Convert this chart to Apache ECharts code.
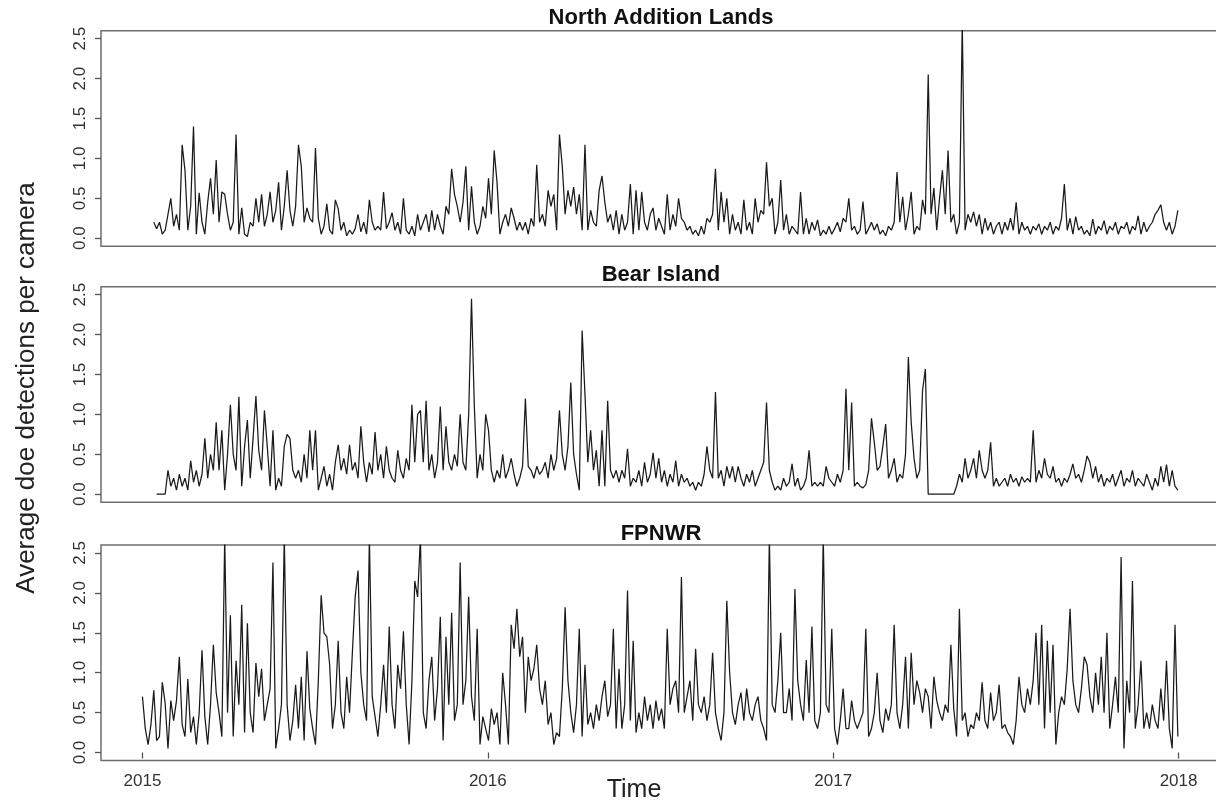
<!DOCTYPE html>
<html lang="en">
<head>
  <meta charset="UTF-8">
  <title>Average doe detections per camera</title>
  <style>
    html, body { margin: 0; padding: 0; overflow: hidden; background: #fff; }
  </style>
</head>
<body>
  <div class="wrapper" style="width:1222px;height:805px;"></div>

  <script src="https://cdn.jsdelivr.net/npm/echarts@6/dist/echarts.min.js"></script>
  <script>
    // one value every 3 days starting 2015-01-01
    const START_YEAR = 2015
    const STEP_DAYS = 3
    const yearTicks = [2015, 2016, 2017, 2018]
    const valueTicks = [0, 0.5, 1, 1.5, 2, 2.5]
    const panelNames = ['North Addition Lands', 'Bear Island', 'FPNWR']

    const northAddition = [
      null,null,null,null,0.2,0.12,0.2,0.05,0.1,0.3,
      0.5,0.15,0.3,0.1,1.17,0.85,0.1,0.4,1.4,0.05,
      0.57,0.2,0.05,0.45,0.75,0.3,0.98,0.2,0.58,0.55,
      0.3,0.1,0.2,1.3,0.05,0.38,0.05,0.02,0.2,0.15,
      0.5,0.2,0.55,0.15,0.3,0.58,0.2,0.35,0.7,0.1,
      0.4,0.85,0.35,0.15,0.4,1.17,0.9,0.2,0.38,0.25,
      0.2,1.13,0.25,0.05,0.15,0.43,0.1,0.05,0.48,0.37,
      0.1,0.2,0.03,0.1,0.05,0.12,0.3,0.08,0.2,0.05,
      0.48,0.2,0.1,0.15,0.1,0.58,0.12,0.2,0.32,0.1,
      0.2,0.05,0.5,0.1,0.05,0.15,0.03,0.3,0.1,0.2,
      0.3,0.08,0.35,0.1,0.3,0.15,0.05,0.4,0.3,0.87,
      0.55,0.4,0.2,0.45,0.9,0.1,0.65,0.2,0.05,0.15,
      0.4,0.25,0.75,0.3,1.1,0.7,0.05,0.2,0.3,0.15,
      0.38,0.25,0.1,0.2,0.1,0.2,0.05,0.25,0.15,0.92,
      0.2,0.3,0.15,0.6,0.4,0.55,0.1,1.3,0.9,0.3,
      0.6,0.4,0.64,0.3,0.55,0.1,1.17,0.1,0.35,0.2,
      0.15,0.6,0.78,0.45,0.2,0.3,0.1,0.35,0.05,0.3,
      0.1,0.2,0.68,0.05,0.6,0.1,0.58,0.2,0.1,0.3,
      0.38,0.1,0.25,0.15,0.05,0.55,0.1,0.3,0.15,0.5,
      0.25,0.2,0.1,0.15,0.05,0.1,0.03,0.15,0.05,0.25,
      0.2,0.3,0.87,0.1,0.58,0.2,0.5,0.05,0.3,0.1,
      0.2,0.05,0.48,0.1,0.2,0.05,0.5,0.2,0.35,0.3,
      0.95,0.4,0.5,0.05,0.2,0.73,0.1,0.3,0.05,0.15,
      0.1,0.05,0.58,0.05,0.25,0.05,0.2,0.1,0.23,0.03,
      0.1,0.05,0.15,0.05,0.12,0.2,0.08,0.25,0.2,0.5,
      0.1,0.15,0.05,0.1,0.46,0.05,0.12,0.2,0.1,0.18,
      0.05,0.1,0.03,0.15,0.1,0.2,0.83,0.2,0.52,0.1,
      0.3,0.58,0.05,0.15,0.1,0.48,0.3,2.05,0.3,0.63,
      0.1,0.5,0.85,0.3,1.1,0.2,0.3,0.05,0.2,2.7,
      0.1,0.3,0.2,0.33,0.15,0.3,0.05,0.25,0.1,0.2,
      0.05,0.15,0.2,0.05,0.2,0.1,0.25,0.1,0.45,0.05,
      0.2,0.1,0.15,0.05,0.15,0.1,0.18,0.05,0.15,0.1,
      0.2,0.05,0.15,0.1,0.25,0.68,0.1,0.25,0.05,0.27,
      0.1,0.15,0.05,0.1,0.03,0.24,0.05,0.15,0.1,0.22,
      0.05,0.15,0.1,0.2,0.05,0.15,0.12,0.2,0.05,0.15,
      0.1,0.28,0.05,0.2,0.08,0.15,0.2,0.3,0.35,0.42,
      0.2,0.1,0.2,0.05,0.15,0.35
    ]

    const bearIsland = [
      null,null,null,null,null,0,0,0,0,0.3,
      0.1,0.2,0.05,0.25,0.1,0.2,0.05,0.42,0.15,0.3,
      0.1,0.25,0.7,0.2,0.5,0.3,0.9,0.3,0.8,0.05,
      0.5,1.12,0.5,0.3,1.22,0.1,0.6,0.93,0.2,0.7,
      1.23,0.55,0.3,1.05,0.6,0.1,0.8,0.05,0.2,0.1,
      0.6,0.75,0.7,0.3,0.2,0.3,0.15,0.5,0.2,0.8,
      0.3,0.8,0.05,0.2,0.35,0.1,0.25,0.05,0.4,0.62,
      0.3,0.45,0.25,0.62,0.3,0.4,0.2,0.85,0.4,0.15,
      0.4,0.25,0.78,0.3,0.5,0.2,0.6,0.3,0.2,0.15,
      0.55,0.3,0.2,0.45,0.3,1.12,0.4,1.0,1.05,0.4,
      1.17,0.3,0.5,0.2,0.4,1.1,0.3,0.85,0.4,0.3,
      0.5,0.35,1.0,0.4,0.3,1.0,2.45,1.1,0.2,0.5,
      0.3,1.0,0.8,0.3,0.15,0.3,0.2,0.5,0.2,0.3,
      0.45,0.25,0.1,0.2,0.35,1.2,0.35,0.3,0.2,0.35,
      0.25,0.3,0.4,0.2,0.5,0.3,0.45,1.05,0.5,0.3,
      0.6,1.4,0.5,0.25,0.05,2.05,1.25,0.4,0.8,0.3,
      0.55,0.1,0.8,0.1,1.17,0.3,0.2,0.3,0.15,0.3,
      0.2,0.57,0.1,0.2,0.15,0.3,0.1,0.4,0.15,0.25,
      0.52,0.2,0.45,0.15,0.3,0.1,0.25,0.15,0.42,0.1,
      0.25,0.15,0.2,0.1,0.15,0.05,0.15,0.1,0.25,0.6,
      0.3,0.2,1.28,0.2,0.3,0.1,0.35,0.2,0.35,0.15,
      0.35,0.2,0.1,0.25,0.15,0.3,0.1,0.2,0.3,0.4,
      1.15,0.3,0.15,0.05,0.1,0.05,0.2,0.1,0.15,0.38,
      0.1,0.2,0.05,0.1,0.2,0.55,0.1,0.15,0.1,0.15,
      0.1,0.35,0.2,0.15,0.1,0.25,0.15,0.3,1.32,0.3,
      1.15,0.1,0.15,0.1,0.08,0.12,0.3,0.95,0.65,0.3,
      0.35,0.6,0.88,0.2,0.3,0.45,0.15,0.25,0.2,0.5,
      1.72,0.9,0.45,0.2,0.3,1.3,1.57,0,0,0,
      0,0,0,0,0,0,0,0.1,0.25,0.15,
      0.45,0.2,0.3,0.45,0.2,0.55,0.3,0.2,0.3,0.65,
      0.1,0.2,0.1,0.15,0.2,0.1,0.25,0.15,0.2,0.1,
      0.22,0.15,0.2,0.15,0.8,0.15,0.3,0.2,0.45,0.25,
      0.2,0.35,0.15,0.2,0.1,0.2,0.15,0.25,0.38,0.2,
      0.25,0.15,0.3,0.48,0.4,0.2,0.35,0.15,0.25,0.1,
      0.2,0.15,0.25,0.1,0.2,0.3,0.1,0.2,0.15,0.3,
      0.1,0.2,0.15,0.1,0.25,0.15,0.05,0.2,0.1,0.35,
      0.15,0.37,0.1,0.3,0.1,0.05
    ]

    const fpnwr = [
      0.7,0.3,0.1,0.35,0.78,0.15,0.2,0.88,0.62,0.05,
      0.65,0.4,0.65,1.2,0.35,0.2,0.92,0.25,0.45,0.1,
      0.5,1.28,0.45,0.1,0.6,1.35,0.75,0.5,0.2,2.7,
      0.5,1.72,0.2,1.15,0.6,1.85,0.25,1.62,0.5,0.25,
      1.12,0.7,1.05,0.4,0.6,0.8,2.38,0.05,0.3,0.6,
      2.7,0.6,0.15,0.4,0.85,0.3,0.95,0.15,1.27,0.55,
      0.3,0.1,0.9,1.97,1.5,1.45,1.1,0.3,0.6,1.4,
      0.5,0.3,0.95,0.5,1.25,1.95,2.28,1.0,0.6,0.4,
      2.7,0.7,0.45,0.2,0.6,1.1,0.5,1.58,0.6,0.3,
      1.1,0.8,1.52,0.6,0.1,0.9,2.15,1.95,2.7,0.5,
      0.3,0.9,1.2,0.4,0.8,1.7,0.15,1.45,0.6,1.75,
      0.4,0.6,2.38,0.6,0.9,1.95,0.7,0.4,1.55,0.1,
      0.45,0.3,0.15,0.55,0.35,0.5,0.1,1.0,0.6,0.1,
      1.6,1.3,1.8,1.2,1.45,0.5,1.2,0.9,1.05,1.35,
      0.8,0.6,0.9,0.35,0.5,0.1,0.25,0.2,0.8,1.82,
      0.9,0.5,0.25,0.6,1.55,0.2,1.1,0.35,0.5,0.3,
      0.6,0.4,0.7,0.9,0.45,0.6,1.55,0.3,1.05,0.3,
      0.6,2.03,0.4,1.4,0.25,0.5,0.3,0.7,0.4,0.6,
      0.3,0.65,0.4,0.55,0.3,1.55,0.6,0.8,0.9,0.5,
      2.2,0.5,0.7,0.9,0.4,1.3,0.6,0.5,0.7,0.4,
      0.6,1.25,0.5,0.3,0.15,0.5,1.9,1.0,0.5,0.35,
      0.6,0.75,0.4,0.8,0.5,0.4,0.6,0.7,0.4,0.3,
      0.15,2.7,0.6,0.5,0.9,1.5,0.5,0.5,0.8,0.4,
      2.05,0.9,0.6,0.4,1.16,0.5,1.58,0.4,0.3,0.5,
      2.7,0.6,0.5,1.55,0.3,0.1,0.4,0.8,0.3,0.3,
      0.65,0.4,0.3,0.4,0.5,1.55,0.2,0.3,0.5,1.0,
      0.4,0.25,0.55,0.4,0.6,1.6,0.5,0.3,0.6,1.2,
      0.3,1.25,0.6,0.9,0.75,0.5,0.8,0.7,0.3,0.95,
      0.65,0.5,0.4,0.6,0.5,1.35,0.55,0.2,1.8,0.4,
      0.5,0.2,0.35,0.3,0.5,0.4,0.88,0.4,0.3,0.75,
      0.4,0.5,0.85,0.3,0.35,0.25,0.2,0.1,0.4,0.95,
      0.6,0.5,0.8,0.6,0.9,1.5,0.6,1.6,0.3,1.4,
      0.5,1.35,0.1,0.5,0.7,0.6,1.05,1.8,0.9,0.6,
      0.5,0.8,1.2,1.1,0.7,0.5,1.0,0.6,1.2,0.5,
      1.5,0.3,0.6,0.95,0.5,2.45,0.05,0.9,0.5,2.15,
      0.3,0.6,1.15,0.3,0.5,0.3,0.6,0.4,0.3,0.8,
      0.4,1.15,0.3,0.05,1.6,0.2
    ]

    const panels = [northAddition, bearIsland, fpnwr]
    const gridTops = [30.7, 286.7, 545]
    const FONT = '"Liberation Sans", Arial, Helvetica, sans-serif'

    // day index -> decimal year
    const toPairs = arr => arr.map((v, i) => [START_YEAR + (i * STEP_DAYS) / 365.25, v])

    const chart = echarts.init(document.querySelector('.wrapper'))

    const option = {
      animation: false,
      backgroundColor: '#fff',
      textStyle: { fontFamily: FONT },
      grid: gridTops.map(t => ({
        left: 101, top: t, width: 1119, height: 215.5,
        show: true, borderColor: '#6e6e6e', borderWidth: 1.5
      })),
      xAxis: panels.map((_, i) => ({
        type: 'value',
        gridIndex: i,
        min: 2014.88,
        max: 2018.12,
        axisLine: { show: false },
        splitLine: { show: false },
        axisTick: {
          show: i === 2, customValues: yearTicks, length: 6,
          lineStyle: { color: '#555', width: 1.3 }
        },
        axisLabel: {
          show: i === 2, customValues: yearTicks, fontSize: 17, color: '#333',
          margin: 12, formatter: v => String(v)
        }
      })),
      yAxis: panels.map((_, i) => ({
        type: 'value',
        gridIndex: i,
        min: -0.1,
        max: 2.6,
        axisLine: { show: false },
        splitLine: { show: false },
        axisTick: {
          show: true, customValues: valueTicks, length: 6,
          lineStyle: { color: '#555', width: 1.3 }
        },
        axisLabel: {
          customValues: valueTicks, rotate: 90, fontSize: 17, color: '#333',
          margin: 12, formatter: v => v.toFixed(1)
        }
      })),
      series: panels.map((arr, i) => ({
        type: 'line',
        name: panelNames[i],
        xAxisIndex: i,
        yAxisIndex: i,
        data: toPairs(arr),
        showSymbol: false,
        connectNulls: false,
        lineStyle: { color: '#1a1a1a', width: 1.25 }
      })),
      graphic: [
        ...panelNames.map((name, i) => ({
          type: 'text',
          x: 661,
          y: [17.5, 274.5, 534][i],
          style: {
            text: name, font: 'bold 22px ' + FONT, fill: '#111',
            textAlign: 'center', textVerticalAlign: 'middle',
            align: 'center', verticalAlign: 'middle'
          }
        })),
        {
          type: 'text', x: 634, y: 790,
          style: {
            text: 'Time', font: '25px ' + FONT, fill: '#222',
            textAlign: 'center', textVerticalAlign: 'middle',
            align: 'center', verticalAlign: 'middle'
          }
        },
        {
          type: 'text', x: 27, y: 388, rotation: Math.PI / 2,
          style: {
            text: 'Average doe detections per camera', font: '26px ' + FONT, fill: '#222',
            textAlign: 'center', textVerticalAlign: 'middle',
            align: 'center', verticalAlign: 'middle'
          }
        }
      ]
    }

    chart.setOption(option)
  </script>
</body>
</html>
